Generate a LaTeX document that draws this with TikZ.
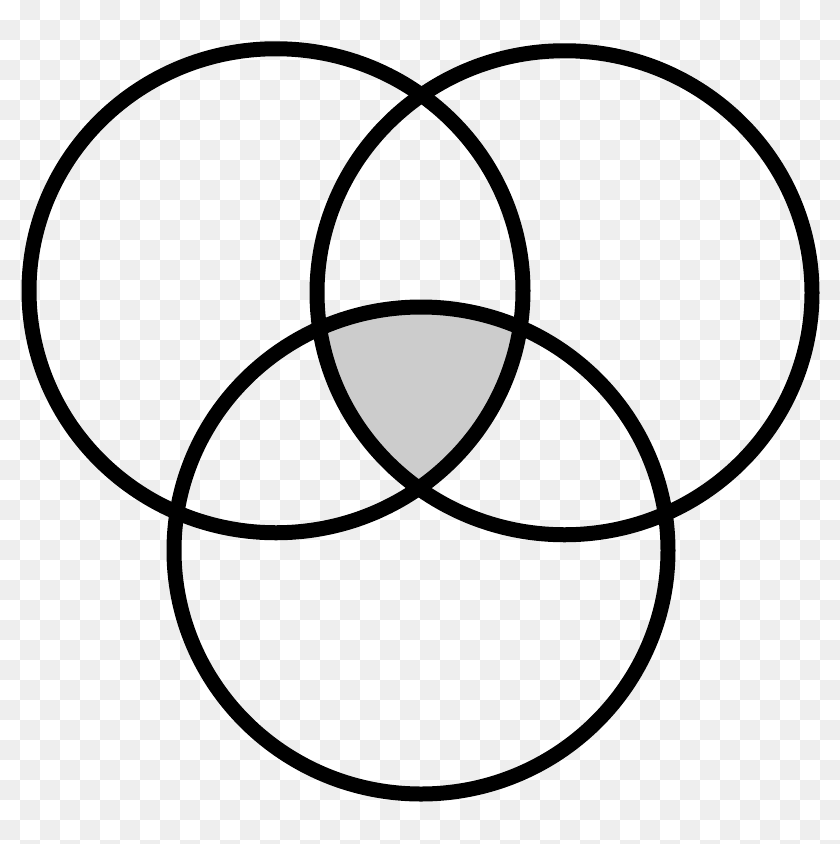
\documentclass[tikz,border=0pt]{standalone}
\definecolor{checkgrey}{HTML}{EEEEEE}
\definecolor{shadegrey}{HTML}{CCCCCC}
\begin{document}
\begin{tikzpicture}[
    x=1pt, y=-1pt,
    ring/.style={draw=black, line width=15pt},
    tile/.style={fill=checkgrey}
]
    \useasboundingbox (0,0) rectangle (840,844);
    \clip (0,0) rectangle (840,844);

    % Hintergrund (Schachbrett)
    \fill[white] (0,0) rectangle (840,844);
    \foreach \i in {0,...,41} {
        \foreach \j in {0,...,42} {
            \ifodd\numexpr\i+\j\relax
                \fill[tile] (20*\i,20*\j) rectangle ++(20,20);
            \fi
        }
    }

    % Schnittmenge aller drei Kreise
    \begin{scope}
        \clip (276,290.75) ellipse [x radius=247pt, y radius=242pt];
        \clip (564.5,292.75) ellipse [x radius=247.5pt, y radius=242pt];
        \fill[shadegrey] (421,550.5) ellipse [x radius=247pt, y radius=243.5pt];
    \end{scope}

    % Kreise
    \draw[ring] (276,290.75) ellipse [x radius=247pt, y radius=242pt];
    \draw[ring] (564.5,292.75) ellipse [x radius=247.5pt, y radius=242pt];
    \draw[ring] (421,550.5) ellipse [x radius=247pt, y radius=243.5pt];

\end{tikzpicture}
\end{document}
